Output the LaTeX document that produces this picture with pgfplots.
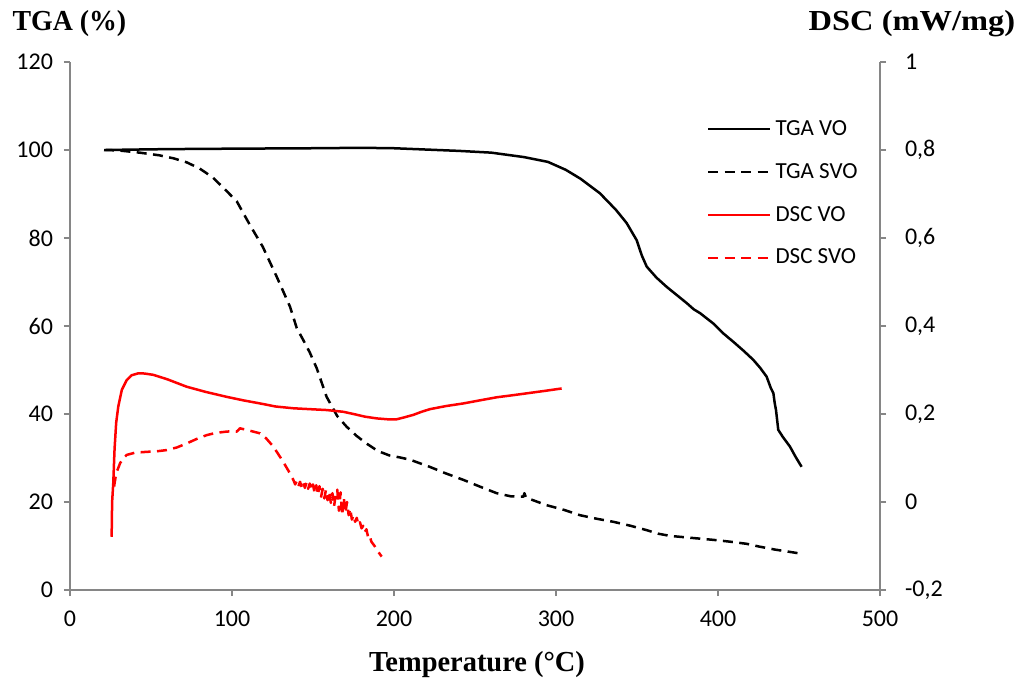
\documentclass[border=0pt]{standalone}
\usepackage{fontspec}
\setmainfont{Carlito}
\newfontfamily\titlefont{Liberation Serif}
\usepackage{pgfplots}
\pgfplotsset{compat=1.18}

\definecolor{axisgray}{RGB}{134,134,134}

\tikzset{
  curve/.style={line width=1.25pt, line join=round},
  dashline/.style={dash pattern=on 5pt off 3.2pt},
  axtitle/.style={font=\titlefont\bfseries\fontsize{14.5}{16}\selectfont, transform shape},
}

\pgfplotsset{
  thermo/.style={
    scale only axis, width=405pt, height=264pt,
    xmin=0, xmax=500,
    axis line style={axisgray, line width=0.75pt, -},
    major tick style={axisgray, line width=0.75pt},
    tick align=outside, major tick length=3pt,
    ticklabel style={font=\fontsize{12}{14}\selectfont},
    /pgf/number format/assume math mode=true,
    clip=false,
  },
}

\begin{document}
\begin{tikzpicture}
\useasboundingbox (-35pt,-45.5pt) rectangle (477pt,295pt);

% TGA on the left axis
\begin{axis}[thermo,
  axis y line*=left, axis x line*=bottom,
  ymin=0, ymax=120, ytick={0,20,...,120},
  xtick={0,100,...,500},
  yticklabel style={xshift=-2pt},
  xticklabel style={yshift=-4pt},
  legend style={at={(rel axis cs:0.786,0.898)}, anchor=north west,
    draw=none, fill=none, inner sep=0pt, row sep=8.5pt,
    font=\fontsize{11.5}{13}\selectfont},
  legend cell align=left,
  legend image code/.code={\draw[#1] (0pt,0pt) -- (31pt,0pt);},
]
\addplot[curve, black] coordinates {
 (22,100.0) (40,100.1) (60,100.2) (100,100.3) (150,100.4) (180,100.5)
 (200,100.4) (220,100.1) (240,99.8) (260,99.4) (280,98.4) (295,97.3)
 (306,95.5) (315,93.5) (327,90.2) (337,86.4) (343.6,83.4) (349.8,79.5)
 (353,76) (356,73.5) (362,71) (368.3,68.9) (375,66.9) (380.7,65.2)
 (385,63.8) (389,62.9) (397,60.6) (403,58.4) (409.5,56.4) (416,54.3)
 (421.8,52.3) (426,50.5) (430,48.5) (432.5,46) (434.2,44.7) (435,42.5)
 (435.8,40.9) (437.2,36.4) (440,34.8) (444.4,32.6) (448,30.2) (451.6,28)
};
\addlegendentry{TGA VO}
\addplot[curve, black, dashline] coordinates {
 (21,100.0) (30,99.9) (43,99.4) (55,98.8) (64,98.1) (72,97.2) (80,95.8)
 (88,93.8) (95,91.3) (103,88.3) (111,83) (119,78) (127.6,71.2)
 (135.8,64.4) (140,59.5) (144,56.8) (148,54) (152.3,50.4) (158.4,43.9)
 (165,39.5) (170.8,37.1) (177,35) (183,33.3) (190,31.6) (197,30.6)
 (204,30.1) (210,29.6) (222,28) (232,26.5) (243,25) (253,23.5)
 (263.4,22) (272,21.3) (279.8,21.2) (280.5,22.0) (281.5,21.0) (294,19.3)
 (305,18.2) (314.8,17) (325,16.2) (335.4,15.5) (346,14.6) (356,13.6)
 (363,12.8) (370.4,12.3) (385,11.8) (397,11.4) (407,11.0) (417.7,10.5)
 (425,9.9) (435,9.2) (450.6,8.3)
};
\addlegendentry{TGA SVO}
\addlegendimage{curve, red}
\addlegendentry{DSC VO}
\addlegendimage{curve, red, dashline}
\addlegendentry{DSC SVO}
\end{axis}

% DSC on the right axis
\begin{axis}[thermo,
  axis y line*=right, axis x line=none,
  ymin=-0.2, ymax=1, ytick={-0.2,0,0.2,0.4,0.6,0.8,1},
  yticklabel style={xshift=6pt, /pgf/number format/.cd, use comma, fixed, precision=1},
]
\addplot[curve, red] coordinates {
 (25.7,-0.079) (26,0.0) (26.7,0.0425) (27.5,0.12) (28.5,0.18) (29.8,0.217)
 (32,0.255) (35,0.277) (38,0.288) (42.2,0.2925) (46,0.292) (51.4,0.289)
 (60,0.279) (72,0.262) (84,0.25) (96.7,0.239) (107,0.231) (117.3,0.224)
 (127,0.217) (137.9,0.213) (148,0.211) (158.4,0.209) (168.7,0.205)
 (175,0.200) (182,0.194) (189.3,0.190) (196,0.188) (201.7,0.188)
 (206,0.192) (211.9,0.198) (217,0.205) (222.2,0.211) (232,0.218)
 (242.8,0.224) (253,0.231) (263.4,0.238) (274,0.243) (284,0.248)
 (294,0.253) (303.5,0.258)
};
\addplot[curve, red, dashline] coordinates {
 (27.2,0.035) (28.5,0.065) (30.9,0.088) (33,0.1) (35,0.107) (40,0.112)
 (47.3,0.114) (53,0.115) (59.7,0.118) (66,0.124) (72,0.133) (78,0.143)
 (84.4,0.152) (90,0.157) (96.7,0.16) (101,0.161) (103,0.16) (104.9,0.1675)
 (110,0.163) (117.3,0.156) (121,0.145) (125.5,0.126) (131,0.095)
 (135,0.07) (137.9,0.05)
 (139,0.040) (140,0.048) (141,0.036) (142,0.046) (143,0.034) (144,0.045)
 (145,0.032) (146,0.044) (147,0.030) (148,0.042) (149,0.026) (150,0.040)
 (151,0.020) (152,0.038) (153,0.016) (154,0.036) (155,0.012) (156,0.030)
 (157,0.008) (158,0.028) (159,0.004) (160,0.024) (161,-0.002) (162,0.020)
 (163,-0.010) (164,0.016) (165,0.028) (166,-0.020) (167,0.022) (168,-0.030)
 (169,0.010) (170,-0.025) (171,0.0) (172,-0.030) (173,-0.015) (174,-0.040)
 (175,-0.030) (176,-0.045) (177,-0.036) (178,-0.052) (179,-0.046)
 (180,-0.060) (181,-0.054) (182,-0.068) (183,-0.062) (184,-0.080)
 (185,-0.076) (186,-0.090) (188,-0.100) (190,-0.112) (192.4,-0.124)
};
\end{axis}

% axis titles
\node[axtitle, xscale=0.96] at (-0.3pt,283pt) {TGA (\%)};
\node[axtitle, xscale=1.12] at (421pt,283pt) {DSC (mW/mg)};
\node[axtitle, xscale=0.98] at (203.5pt,-37.5pt) {Temperature (°C)};
\end{tikzpicture}
\end{document}
